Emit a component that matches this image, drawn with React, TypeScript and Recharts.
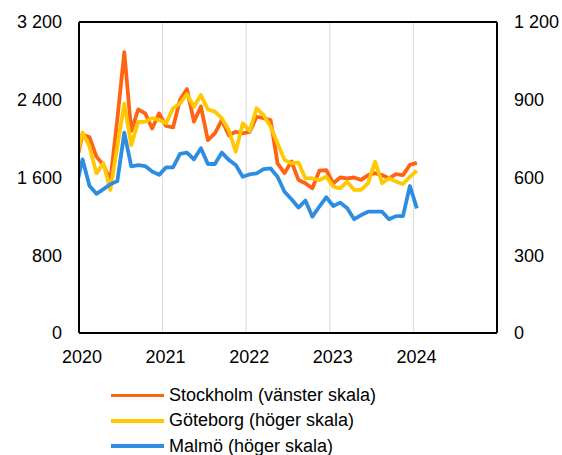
import { LineChart, Line, XAxis, YAxis, CartesianGrid, ReferenceLine } from "recharts";

// monthly observations, Dec 2019 – Jan 2024 (plotted mid-month)
const months: string[] = [];
for (let y = 2019, m = 12; y < 2024 || m <= 1; ) {
  months.push(`${y}-${String(m).padStart(2, "0")}`);
  m++;
  if (m > 12) { m = 1; y++; }
}

const stockholm = [
  1720,
  2040, 2015, 1815, 1730, 1570, 2200, 2890, 2080, 2300, 2260, 2105, 2260,
  2130, 2115, 2400, 2510, 2175, 2330, 1985, 2055, 2190, 2035, 2070, 2055,
  2070, 2225, 2210, 2190, 1745, 1645, 1765, 1575, 1540, 1490, 1670, 1675,
  1540, 1600, 1590, 1600, 1575, 1625, 1645, 1625, 1590, 1635, 1625, 1730,
  1750,
];

const goteborg = [
  665,
  773, 720, 616, 655, 552, 720, 885, 725, 815, 815, 829, 822,
  809, 867, 886, 922, 873, 918, 863, 854, 829, 783, 700, 809,
  780, 867, 841, 796, 732, 668, 655, 657, 597, 597, 590, 603,
  565, 558, 584, 552, 552, 578, 661, 578, 597, 584, 575, 603,
  626,
];

const malmo = [
  550,
  670, 568, 537, 555, 574, 586, 773, 643, 648, 644, 623, 610,
  639, 639, 691, 696, 670, 713, 652, 652, 696, 668, 648, 603,
  612, 616, 632, 635, 603, 545, 516, 484, 511, 449, 488, 524,
  490, 503, 481, 439, 455, 468, 468, 468, 439, 451, 451, 567,
  481,
];

const yearTicks = [2020, 2021, 2022, 2023, 2024];
const leftTicks = [0, 800, 1600, 2400, 3200];
const rightTicks = [0, 300, 600, 900, 1200];

const series = [
  { key: "stockholm", name: "Stockholm (vänster skala)", color: "#FF6414", axis: "left" },
  { key: "goteborg", name: "Göteborg (höger skala)", color: "#FFC800", axis: "right" },
  { key: "malmo", name: "Malmö (höger skala)", color: "#2E8DE0", axis: "right" },
];

const toYear = (m: string) => {
  const [y, mo] = m.split("-").map(Number);
  return y + (mo - 0.5) / 12;
};

const data = months.map((m, i) => ({
  t: toYear(m),
  stockholm: stockholm[i],
  goteborg: goteborg[i],
  malmo: malmo[i],
}));

const font = '"Liberation Sans", Arial, sans-serif';
const tickStyle = { fontSize: 18, fill: "#000", fontFamily: font };
const spaced = (v: number) => String(v).replace(/\B(?=(\d{3})+(?!\d))/g, " ");

export default function App() {
  return (
    <div style={{ position: "absolute", left: 0, top: 0, width: 562, height: 455, background: "#fff", fontFamily: font }}>
      <LineChart width={562} height={455} data={data} margin={{ top: 22, right: 0, bottom: 82, left: 0 }}>
        <CartesianGrid stroke="#d9d9d9" strokeWidth={1} />
        <XAxis
          dataKey="t"
          type="number"
          domain={[2020, 2025]}
          ticks={yearTicks}
          allowDataOverflow
          interval={0}
          height={40}
          tickSize={0}
          tickMargin={17}
          tick={{ ...tickStyle, dx: 3 }}
          axisLine={{ stroke: "#000", strokeWidth: 2 }}
          tickLine={false}
        />
        <YAxis
          yAxisId="left"
          domain={[0, 3200]}
          ticks={leftTicks}
          width={79}
          tickSize={0}
          tickMargin={17}
          tick={tickStyle}
          tickFormatter={spaced}
          axisLine={{ stroke: "#000", strokeWidth: 2 }}
          tickLine={false}
        />
        <YAxis
          yAxisId="right"
          orientation="right"
          domain={[0, 1200]}
          ticks={rightTicks}
          width={65}
          tickSize={0}
          tickMargin={17}
          tick={{ ...tickStyle, textAnchor: "start" }}
          tickFormatter={spaced}
          axisLine={{ stroke: "#000", strokeWidth: 2 }}
          tickLine={false}
        />
        <ReferenceLine yAxisId="left" y={3200} stroke="#000" strokeWidth={2} />
        {series.map((s) => (
          <Line
            key={s.key}
            yAxisId={s.axis}
            dataKey={s.key}
            name={s.name}
            type="linear"
            stroke={s.color}
            strokeWidth={3.8}
            strokeLinejoin="round"
            dot={false}
            activeDot={false}
            isAnimationActive={false}
          />
        ))}
      </LineChart>
      <div style={{ position: "absolute", left: 111, top: 383 }}>
        {series.map((s) => (
          <div key={s.key} style={{ display: "flex", alignItems: "center", height: 25.3 }}>
            <span style={{ display: "inline-block", width: 53, height: 3.6, background: s.color }} />
            <span style={{ marginLeft: 5, fontSize: 18, color: "#000", whiteSpace: "nowrap" }}>{s.name}</span>
          </div>
        ))}
      </div>
    </div>
  );
}
